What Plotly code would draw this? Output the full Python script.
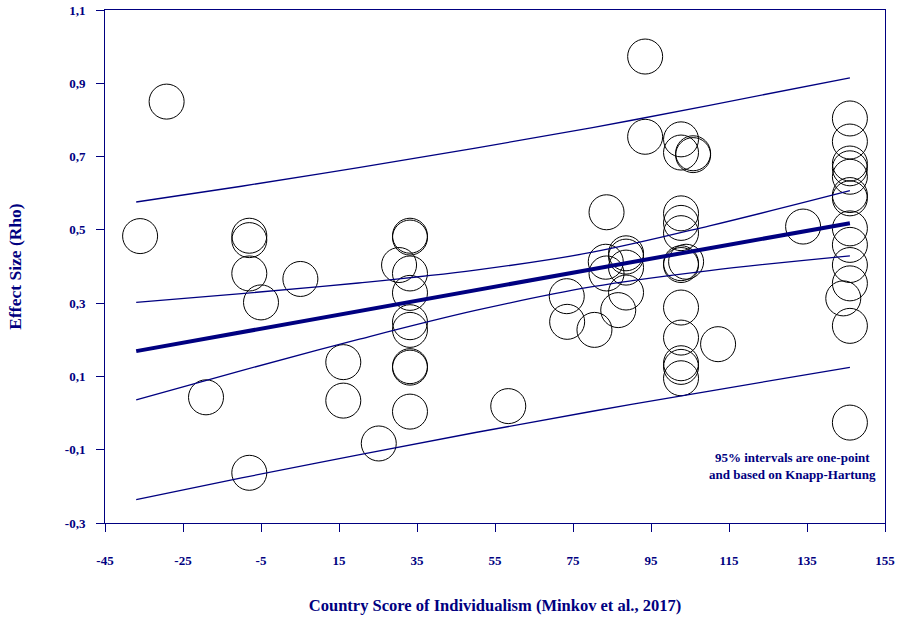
import plotly.graph_objects as go

# Study points: country individualism score (x) and effect size rho (y)
study_x = [-36.0, -29.2, -19.1, -8.0, -8.0, -8.0, -8.0, -5.0, 5.1,
           16.1, 16.1, 25.2, 30.4, 33.2, 33.2, 33.2, 33.2, 33.2, 33.2,
           33.2, 33.2, 33.2,
           58.4, 73.4, 73.5, 80.5, 83.6, 83.4, 83.6, 86.6, 88.6, 88.6,
           88.6, 88.6,
           93.5, 93.5,
           102.7, 102.7, 105.8, 105.8, 102.7, 102.7, 102.7, 102.7, 102.7,
           104.0, 102.7, 102.7, 102.7, 102.7, 102.7, 112.2,
           134.0,
           146.0, 146.0, 146.0, 146.0, 146.0, 146.0, 146.0, 146.0, 146.0,
           146.0, 146.0, 144.3, 146.0, 146.0]
study_y = [0.483, 0.850, 0.043, 0.484, 0.472, 0.381, -0.163, 0.302, 0.366,
           0.139, 0.034, -0.083, 0.404, 0.484, 0.479, 0.381, 0.328, 0.248,
           0.227, 0.128, 0.124, 0.004,
           0.019, 0.319, 0.249, 0.227, 0.548, 0.413, 0.381, 0.281, 0.436,
           0.427, 0.397, 0.329,
           0.973, 0.754,
           0.747, 0.711, 0.709, 0.704, 0.545, 0.519, 0.491, 0.409, 0.404,
           0.413, 0.288, 0.206, 0.136, 0.126, 0.095, 0.188,
           0.509,
           0.804, 0.741, 0.681, 0.668, 0.645, 0.595, 0.586, 0.504, 0.459,
           0.404, 0.354, 0.313, 0.238, -0.026]

# Meta-regression line and intervals
line_x = [-37, -10, 20, 50, 80, 110, 146]
reg_y = [0.169, 0.221, 0.278, 0.335, 0.392, 0.450, 0.518]
ci_upper = [0.302, 0.326, 0.355, 0.390, 0.439, 0.511, 0.607]
ci_lower = [0.036, 0.116, 0.201, 0.280, 0.345, 0.389, 0.429]
pi_upper = [0.576, 0.619, 0.670, 0.723, 0.779, 0.840, 0.915]
pi_lower = [-0.236, -0.177, -0.114, -0.053, 0.005, 0.060, 0.125]

x_ticks = [-45, -25, -5, 15, 35, 55, 75, 95, 115, 135, 155]
y_ticks = [-0.3, -0.1, 0.1, 0.3, 0.5, 0.7, 0.9, 1.1]
y_ticktext = ["-0,3", "-0,1", "0,1", "0,3", "0,5", "0,7", "0,9", "1,1"]
x_ticktext = ["-45", "-25", "-5", "15", "35", "55", "75", "95", "115", "135", "155"]

NAVY = "#000080"
FONT = "Liberation Serif"

fig = go.Figure()

fig.add_trace(go.Scatter(
    x=study_x, y=study_y, mode="markers",
    marker=dict(size=35, color="rgba(0,0,0,0)",
                line=dict(color="black", width=1)),
    showlegend=False, hoverinfo="x+y"))

for ys in (pi_upper, pi_lower, ci_upper, ci_lower):
    fig.add_trace(go.Scatter(x=line_x, y=ys, mode="lines",
                             line=dict(color=NAVY, width=1.3, shape="spline"),
                             showlegend=False))

fig.add_trace(go.Scatter(x=line_x, y=reg_y, mode="lines",
                         line=dict(color=NAVY, width=4),
                         showlegend=False))

fig.add_annotation(
    x=(792 - 105) / (885 - 105), y=(523 - 466) / (523 - 10),
    xref="paper", yref="paper", showarrow=False,
    xanchor="center", yanchor="middle",
    text="<b>95% intervals are one-point<br>and based on Knapp-Hartung</b>",
    font=dict(family=FONT, size=13, color=NAVY), align="center")

fig.update_layout(
    width=901, height=624,
    margin=dict(l=105, r=16, t=10, b=101, autoexpand=False),
    paper_bgcolor="white", plot_bgcolor="white",
    font=dict(family=FONT, color=NAVY),
    showlegend=False,
)

fig.update_xaxes(
    range=[-45, 155], tickvals=x_ticks, ticktext=x_ticktext,
    automargin=False,
    showgrid=False, zeroline=False,
    showline=True, linecolor=NAVY, linewidth=1, mirror=True,
    ticks="outside", ticklen=8, tickcolor=NAVY, tickwidth=1,
    ticklabelstandoff=17,
    tickfont=dict(family=FONT, size=13, color=NAVY, weight="bold"),
    title=dict(text="<b>Country Score of Individualism (Minkov et al., 2017)</b>",
               font=dict(family=FONT, size=16.5, color=NAVY), standoff=32),
)
fig.update_yaxes(
    range=[-0.3, 1.1], tickvals=y_ticks, ticktext=y_ticktext,
    automargin=False,
    showgrid=False, zeroline=False,
    showline=True, linecolor=NAVY, linewidth=1, mirror=True,
    ticks="outside", ticklen=8, tickcolor=NAVY, tickwidth=1,
    ticklabelstandoff=8,
    tickfont=dict(family=FONT, size=13, color=NAVY, weight="bold"),
    title=dict(text="<b>Effect Size (Rho)</b>",
               font=dict(family=FONT, size=17.5, color=NAVY), standoff=38),
)

fig.write_html("out.html")
